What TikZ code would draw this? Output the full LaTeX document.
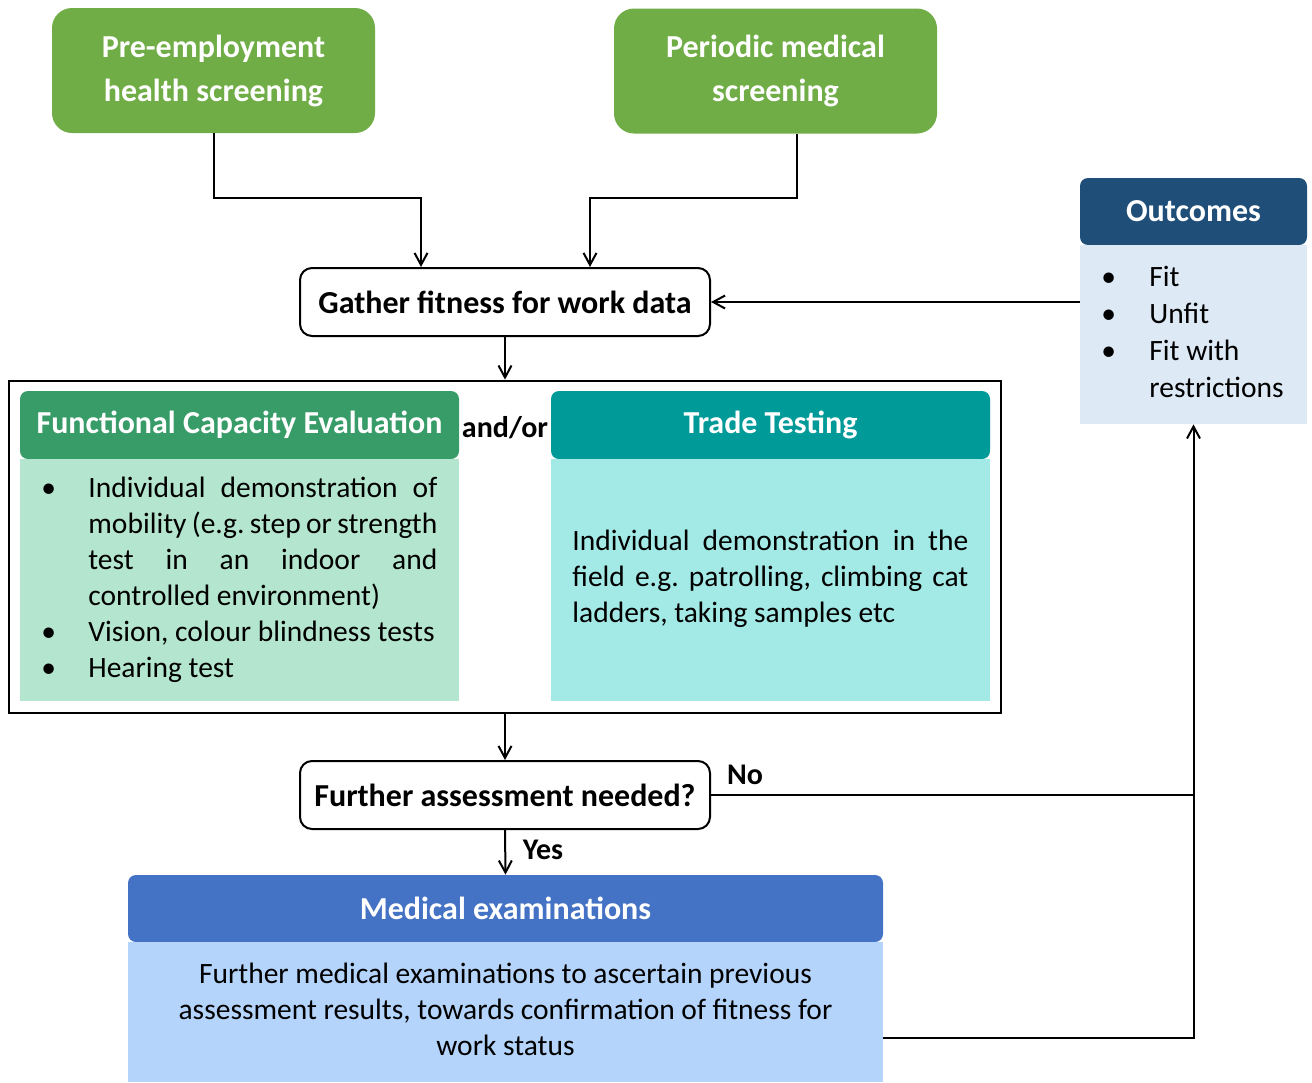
\documentclass[tikz,border=0pt]{standalone}
\usepackage{fontspec}
\setmainfont{Carlito}
\usetikzlibrary{arrows.meta}
\definecolor{screengreen}{HTML}{70AD47}
\definecolor{fcehead}{HTML}{389C68}
\definecolor{fcebody}{HTML}{B4E5CE}
\definecolor{tradehead}{HTML}{009A99}
\definecolor{tradebody}{HTML}{A3E9E5}
\definecolor{outhead}{HTML}{1F4E79}
\definecolor{outbody}{HTML}{DDEAF6}
\definecolor{medhead}{HTML}{4472C4}
\definecolor{medbody}{HTML}{B4D4FB}
\frenchspacing
\newcommand{\bodyfont}{\fontsize{14.75}{18}\selectfont}
\newcommand{\headfont}{\fontsize{16}{22}\selectfont\bfseries}
\newcommand{\jline}[1]{\makebox[174.5pt][s]{#1}}
\newcommand{\tline}[1]{\makebox[198pt][s]{#1}}

\begin{document}
\begin{tikzpicture}[x=0.5pt,y=-0.5pt,
  arr/.style={-{Straight Barb[length=6pt,width=6.5pt]},line width=1pt},
  conn/.style={line width=1pt},
  screen/.style={fill=screengreen,rounded corners=10pt,text=white,font=\headfont,align=center,minimum width=161.5pt,minimum height=62.5pt,inner sep=0pt},
  whitebox/.style={draw,line width=1pt,rounded corners=6pt,fill=white,font=\fontsize{16}{18}\selectfont\bfseries,minimum width=205pt,minimum height=34pt,inner sep=0pt},
  head/.style={rounded corners=4pt,text=white,font=\headfont,minimum height=34pt,inner sep=0pt},
  body/.style={inner sep=0pt},
  lbl/.style={font=\fontsize{15}{16}\selectfont\bfseries,inner sep=0pt}
]
\useasboundingbox (0,0) rectangle (1312,1082);

\node (pre) [screen] at (213.5,70.5) {Pre-employment\\health screening};
\node (per) [screen] at (775.5,71) {Periodic medical\\screening};
\node (gather) [whitebox] at (505,302) {Gather fitness for work data};

\node (frame) [draw,line width=1.4pt,minimum width=496pt,minimum height=166pt,inner sep=0pt] at (505,547) {};
\node (fceh) [head,fill=fcehead,minimum width=219.5pt] at (239.5,425) {Functional Capacity Evaluation};
\node (fceb) [body,fill=fcebody,minimum width=219.5pt,minimum height=121pt] at (239.5,580) {};
\node (trh) [head,fill=tradehead,minimum width=219.5pt] at (770.5,425) {Trade Testing};
\node (trb) [body,fill=tradebody,minimum width=219.5pt,minimum height=121pt] at (770.5,580) {};
\node (andor) [lbl] at (505,428) {and/or};

\node (fcelist) [anchor=north west,inner sep=0pt,font=\bodyfont] at (41,472) {%
  \begin{tabular}{@{}p{23.5pt}@{}l@{}}
  \textbullet & \jline{Individual demonstration of}\\
   & \jline{mobility (e.g. step or strength}\\
   & \jline{test in an indoor and}\\
   & controlled environment)\\
  \textbullet & Vision, colour blindness tests\\
  \textbullet & Hearing test
  \end{tabular}};
\node (trlist) [anchor=north west,inner sep=0pt,font=\bodyfont] at (572,525) {%
  \begin{tabular}{@{}l@{}}
  \tline{Individual demonstration in the}\\
  \tline{field e.g. patrolling, climbing cat}\\
  ladders, taking samples etc
  \end{tabular}};

\node (further) [whitebox] at (505,795) {Further assessment needed?};
\node (medh) [head,fill=medhead,minimum width=377.5pt,minimum height=33.5pt] at (505.5,908.5) {Medical examinations};
\node (medb) [body,fill=medbody,minimum width=377.5pt,minimum height=70pt,font=\bodyfont] at (505.5,1012) {%
  \begin{tabular}{@{}c@{}}
  Further medical examinations to ascertain previous\\
  assessment results, towards confirmation of fitness for\\
  work status
  \end{tabular}};

\node (outh) [head,fill=outhead,minimum width=113.5pt,minimum height=33.5pt] at (1193.5,211.5) {Outcomes};
\node (outb) [body,fill=outbody,minimum width=113.5pt,minimum height=89.5pt] at (1193.5,334.5) {};
\node (outlist) [anchor=north west,inner sep=0pt,font=\fontsize{14.75}{18.5}\selectfont] at (1101,260) {%
  \begin{tabular}{@{}p{24pt}@{}l@{}}
  \textbullet & Fit\\
  \textbullet & Unfit\\
  \textbullet & Fit with\\
   & restrictions
  \end{tabular}};

\coordinate (j1) at (421,198);
\coordinate (j2) at (590,198);
\draw[arr] (pre.south) |- (j1) -- (j1 |- gather.north);
\draw[arr] ([xshift=10.5pt]per.south) |- (j2) -- (j2 |- gather.north);
\draw[arr] (gather.south) -- (frame.north);
\draw[arr] (outb.west |- gather.east) -- (gather.east);
\draw[arr] (frame.south) -- (further.north);
\draw[arr] (further.south) -- (medh.north);
\draw[arr] (further.east) -- (further.east -| outb.south) -- (outb.south);
\draw[conn] ([yshift=-13pt]medb.east) -| (further.east -| outb.south);
\node (nolbl) [lbl] at (745,775) {No};
\node (yeslbl) [lbl] at (543,850) {Yes};
\end{tikzpicture}
\end{document}
